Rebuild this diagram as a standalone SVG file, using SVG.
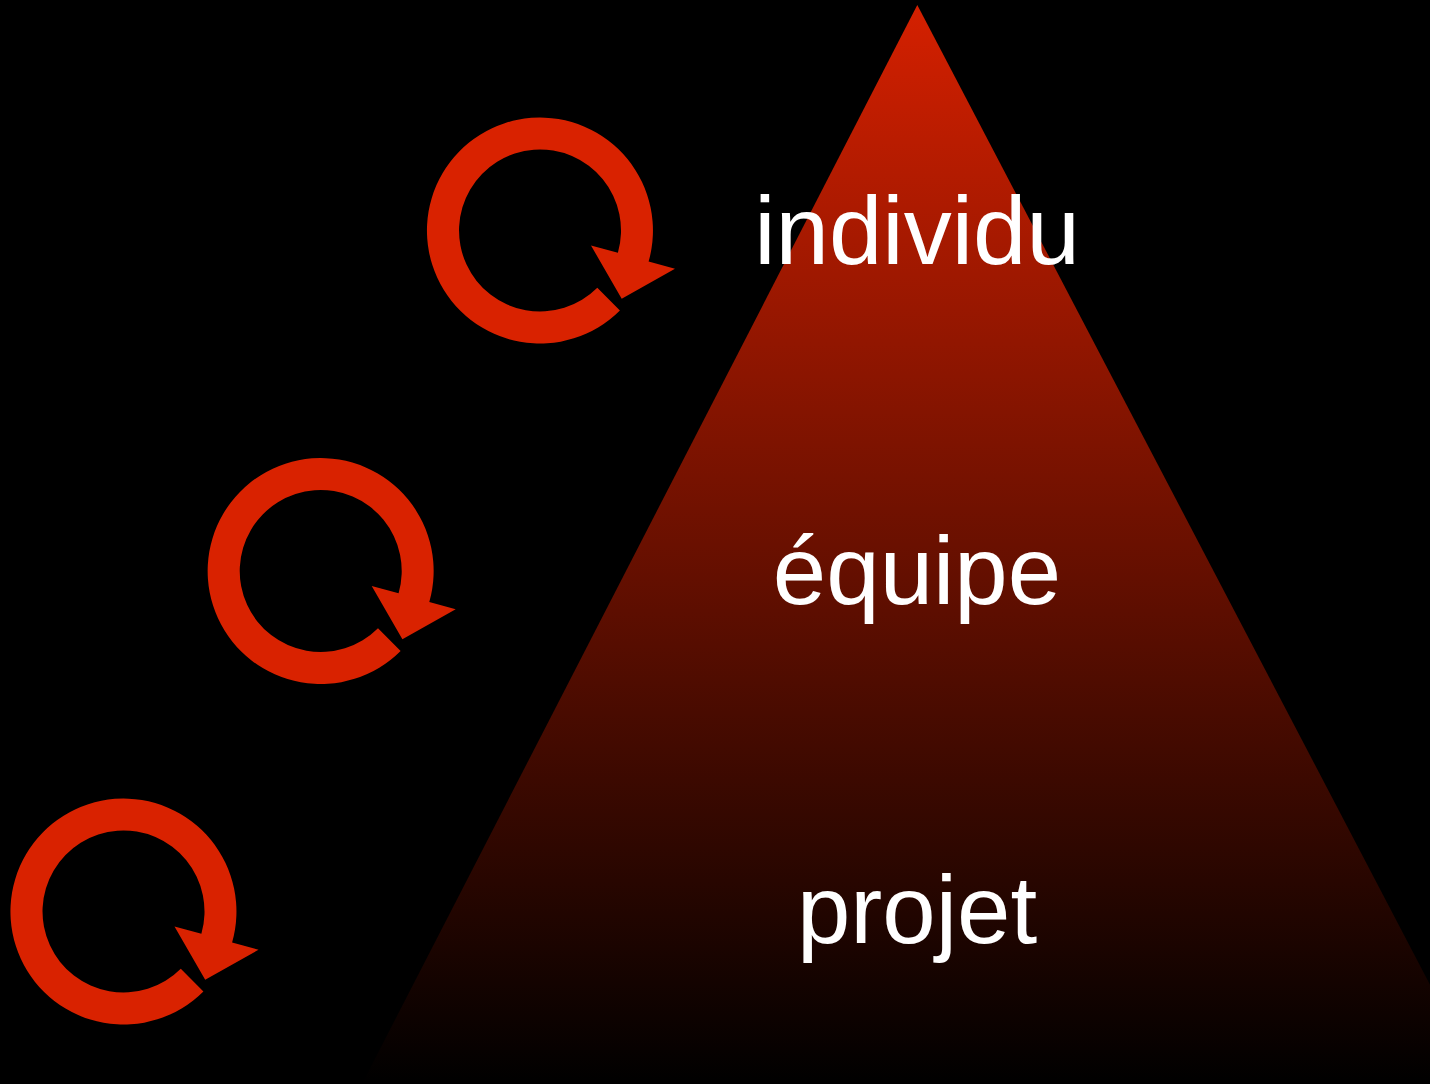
<svg xmlns="http://www.w3.org/2000/svg" width="1430" height="1084" viewBox="0 0 1430 1084">
<defs>
<linearGradient id="pyr" gradientUnits="userSpaceOnUse" x1="0" y1="5" x2="0" y2="1084">
<stop offset="0" stop-color="#d42000"/>
<stop offset="1" stop-color="#000000"/>
</linearGradient>
<path id="cyc" d="M 79.9,79.9 A 113 113 0 1 1 108.6,31.1 L 135,38.3 L 81.7,68.3 L 51,15 L 77.9,22.3 A 81 81 0 1 0 57.3,57.3 Z"/>
</defs>
<style>
.cycle{fill:#d92200}
.label{font-family:"Liberation Sans",Arial,sans-serif;font-size:96px;fill:#ffffff;text-anchor:middle}
</style>
<rect width="1430" height="1084" fill="#000000"/>
<g id="pyramid">
<polygon points="917.3,5 362,1084 1482,1084" fill="url(#pyr)"/>
</g>
<g id="cycle1"><use href="#cyc" class="cycle" transform="translate(540,230.5)"/></g>
<g id="cycle2"><use href="#cyc" class="cycle" transform="translate(320.7,571)"/></g>
<g id="cycle3"><use href="#cyc" class="cycle" transform="translate(123.5,911.5)"/></g>
<g id="individu"><text class="label" x="917" y="264">individu</text></g>
<g id="equipe"><text class="label" x="917" y="604">équipe</text></g>
<g id="projet"><text class="label" x="917" y="943">projet</text></g>
<g id="connectors"></g>
</svg>
